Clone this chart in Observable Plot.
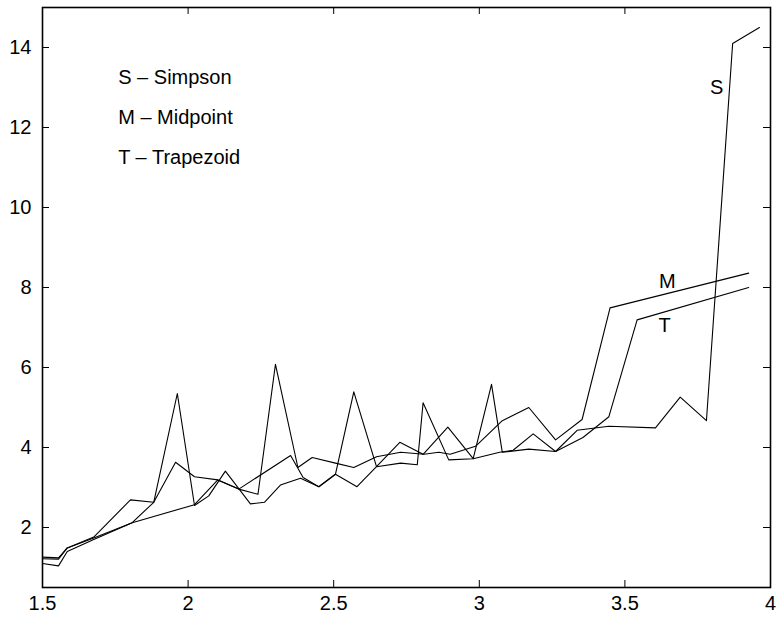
<!DOCTYPE html>
<html>
<head>
<meta charset="utf-8">
<script src="https://cdn.jsdelivr.net/npm/d3@7"></script>
<script src="https://cdn.jsdelivr.net/npm/@observablehq/plot@0.6"></script>
<style>
  html, body { margin: 0; padding: 0; background: #fff; }
  #chart { width: 783px; height: 624px; }
  svg { font-family: "Liberation Sans", Arial, Helvetica, sans-serif; }
</style>
</head>
<body>
<div id="chart"></div>
<script>
// ---- data ----
const simpsonX = [1.5, 1.555, 1.585, 1.676, 1.802, 1.882, 1.963, 2.022, 2.071, 2.128, 2.214, 2.262, 2.317, 2.386, 2.449, 2.506, 2.569, 2.647, 2.73, 2.787, 2.807, 2.895, 2.979, 3.042, 3.079, 3.17, 3.262, 3.336, 3.445, 3.605, 3.69, 3.78, 3.87, 3.962];
const simpsonY = [1.26, 1.24, 1.49, 1.76, 2.69, 2.63, 5.35, 2.55, 2.79, 3.41, 2.59, 2.63, 3.06, 3.23, 3.02, 3.33, 5.39, 3.52, 3.61, 3.57, 5.12, 3.69, 3.72, 5.58, 3.88, 3.96, 3.90, 4.43, 4.53, 4.49, 5.26, 4.67, 14.1, 14.5];
const midpointX = [1.5, 1.555, 1.585, 1.676, 1.808, 1.882, 1.957, 2.022, 2.102, 2.174, 2.24, 2.30, 2.377, 2.426, 2.506, 2.569, 2.647, 2.73, 2.81, 2.861, 2.90, 2.987, 3.079, 3.17, 3.262, 3.353, 3.449, 3.925];
const midpointY = [1.22, 1.21, 1.49, 1.74, 2.12, 2.63, 3.63, 3.27, 3.19, 2.96, 2.83, 6.08, 3.50, 3.75, 3.61, 3.50, 3.77, 3.88, 3.83, 3.88, 3.83, 4.03, 4.67, 5.00, 4.19, 4.70, 7.49, 8.36];
const trapezoidX = [1.5, 1.555, 1.585, 1.676, 1.808, 2.022, 2.102, 2.174, 2.352, 2.395, 2.449, 2.506, 2.58, 2.647, 2.727, 2.807, 2.892, 2.979, 3.07, 3.116, 3.185, 3.262, 3.356, 3.445, 3.542, 3.925];
const trapezoidY = [1.10, 1.04, 1.40, 1.70, 2.12, 2.57, 3.19, 2.96, 3.80, 3.25, 3.02, 3.33, 3.02, 3.52, 4.13, 3.83, 4.51, 3.72, 3.88, 3.93, 4.34, 3.90, 4.25, 4.77, 7.19, 8.00];

const xTicks = [1.5, 2, 2.5, 3, 3.5, 4];
const xTickLabels = ["1.5", "2", "2.5", "3", "3.5", "4"];
const yTicks = [2, 4, 6, 8, 10, 12, 14];
const yTickLabels = ["2", "4", "6", "8", "10", "12", "14"];

const legendLines = ["S \u2013 Simpson", "M \u2013 Midpoint", "T \u2013 Trapezoid"];
const legendX = [1.76, 1.76, 1.76];
const legendY = [13.25, 12.25, 11.25];

const curveLabels = ["S", "M", "T"];
const curveLabelX = [3.815, 3.646, 3.636];
const curveLabelY = [12.99, 8.15, 7.04];

// ---- build tables ----
const series = [
  {name: "S", xs: simpsonX, ys: simpsonY},
  {name: "M", xs: midpointX, ys: midpointY},
  {name: "T", xs: trapezoidX, ys: trapezoidY}
];
const rows = series.flatMap(s => s.xs.map((x, i) => ({series: s.name, x, y: s.ys[i]})));
const legendRows = legendLines.map((t, i) => ({t, x: legendX[i], y: legendY[i]}));
const curveRows = curveLabels.map((t, i) => ({t, x: curveLabelX[i], y: curveLabelY[i]}));

const W = 783, H = 624;
const mL = 42, mR = 13, mT = 7, mB = 37;
const innerW = W - mL - mR, innerH = H - mT - mB;
const tick = 7;
const font = "Liberation Sans, Arial, Helvetica, sans-serif";
const fs = 20;

const chart = Plot.plot({
  width: W,
  height: H,
  marginLeft: mL,
  marginRight: mR,
  marginTop: mT,
  marginBottom: mB,
  style: {fontFamily: font, fontSize: fs + "px", color: "black", background: "white"},
  x: {domain: [1.5, 4], ticks: xTicks},
  y: {domain: [0.5, 15], ticks: yTicks},
  marks: [
    Plot.line(rows, {x: "x", y: "y", z: "series", stroke: "black", strokeWidth: 1.1}),
    // inward ticks (MATLAB style) on all four sides
    Plot.tickX(xTicks, {x: d => d, insetTop: innerH - tick, stroke: "black"}),
    Plot.tickX(xTicks, {x: d => d, insetBottom: innerH - tick, stroke: "black"}),
    Plot.tickY(yTicks, {y: d => d, insetRight: innerW - tick, stroke: "black"}),
    Plot.tickY(yTicks, {y: d => d, insetLeft: innerW - tick, stroke: "black"}),
    Plot.axisX(xTicks, {tickSize: 0, tickPadding: 8, tickFormat: (d, i) => xTickLabels[i], fontSize: fs, label: null}),
    Plot.axisY(yTicks, {tickSize: 0, tickPadding: 11, tickFormat: (d, i) => yTickLabels[i], fontSize: fs, label: null}),
    Plot.frame({stroke: "black", strokeWidth: 1.6}),
    Plot.text(legendRows, {x: "x", y: "y", text: "t", textAnchor: "start", fontSize: fs, fill: "black"}),
    Plot.text(curveRows, {x: "x", y: "y", text: "t", textAnchor: "middle", fontSize: fs, fill: "black"})
  ]
});
document.getElementById("chart").appendChild(chart);
</script>
</body>
</html>
